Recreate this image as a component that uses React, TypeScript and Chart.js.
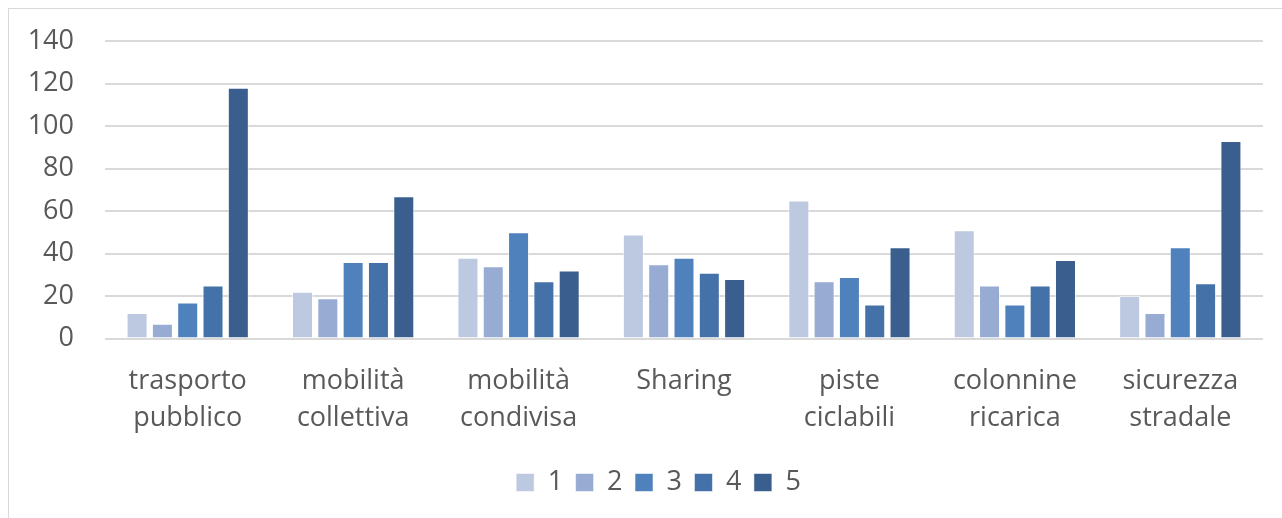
import React, { useEffect, useRef } from "react";
import { Chart, registerables } from "chart.js";

Chart.register(...registerables);

const categories: string[][] = [
  ["trasporto", "pubblico"],
  ["mobilità", "collettiva"],
  ["mobilità", "condivisa"],
  ["Sharing"],
  ["piste", "ciclabili"],
  ["colonnine", "ricarica"],
  ["sicurezza", "stradale"],
];

const seriesNames = ["1", "2", "3", "4", "5"];
const series1 = [12, 22, 38, 49, 65, 51, 20];
const series2 = [7, 19, 34, 35, 27, 25, 12];
const series3 = [17, 36, 50, 38, 29, 16, 43];
const series4 = [25, 36, 27, 31, 16, 25, 26];
const series5 = [118, 67, 32, 28, 43, 37, 93];
const seriesColors = ["#BDC9E1", "#97ABD3", "#4F81BD", "#4472A8", "#3A5F8E"];

const yMin = 0;
const yMax = 140;
const yStep = 20;

const FONT = "'Open Sans', sans-serif";
const TEXT = "#595959";

const legendShift = {
  id: "legendShift",
  afterLayout(chart: any) {
    const lg = chart.legend;
    if (lg) {
      lg.left += 27;
      lg.right += 27;
    }
  },
};

export default function App() {
  const ref = useRef<HTMLCanvasElement | null>(null);

  useEffect(() => {
    if (!ref.current) return;
    const values = [series1, series2, series3, series4, series5];
    const chart = new Chart(ref.current, {
      type: "bar",
      data: {
        labels: categories,
        datasets: values.map((v, i) => ({
          label: seriesNames[i],
          data: v,
          backgroundColor: seriesColors[i],
          borderColor: "rgba(255,255,255,0.55)",
          borderWidth: 1,
          categoryPercentage: 0.765,
          barPercentage: 0.83,
        })),
      },
      plugins: [legendShift],
      options: {
        animation: false,
        responsive: false,
        maintainAspectRatio: false,
        layout: { padding: { top: 41, right: 19, bottom: 12, left: 0 } },
        plugins: {
          tooltip: { enabled: false },
          legend: {
            position: "bottom",
            labels: {
              boxWidth: 18,
              boxHeight: 18,
              padding: 12.5,
              color: TEXT,
              font: { family: FONT, size: 27 },
            },
          },
        },
        scales: {
          x: {
            grid: { display: false, drawTicks: false },
            border: { display: false },
            ticks: {
              color: TEXT,
              font: { family: FONT, size: 27, lineHeight: 1.37 },
              padding: 24,
              maxRotation: 0,
              autoSkip: false,
            },
            afterFit: (scale: any) => {
              scale.height = 118;
            },
          },
          y: {
            min: yMin,
            max: yMax,
            grid: { color: "#d9d9d9", lineWidth: 2, drawTicks: false },
            border: { display: false },
            ticks: {
              stepSize: yStep,
              color: TEXT,
              font: { family: FONT, size: 27, lineHeight: 0.7 },
              padding: 31,
            },
            afterFit: (scale: any) => {
              scale.width = 105;
            },
          },
        },
      },
    });
    return () => chart.destroy();
  }, []);

  return (
    <div style={{ position: "fixed", inset: 0, overflow: "hidden", background: "#fff" }}>
      <div
        style={{
          position: "absolute",
          left: 8,
          top: 8,
          width: 1300,
          height: 540,
          border: "1.5px solid #d9d9d9",
          boxSizing: "border-box",
        }}
      />
      <canvas
        ref={ref}
        width={1282}
        height={518}
        style={{ position: "absolute", left: 0, top: 0, width: 1282, height: 518 }}
      />
    </div>
  );
}
